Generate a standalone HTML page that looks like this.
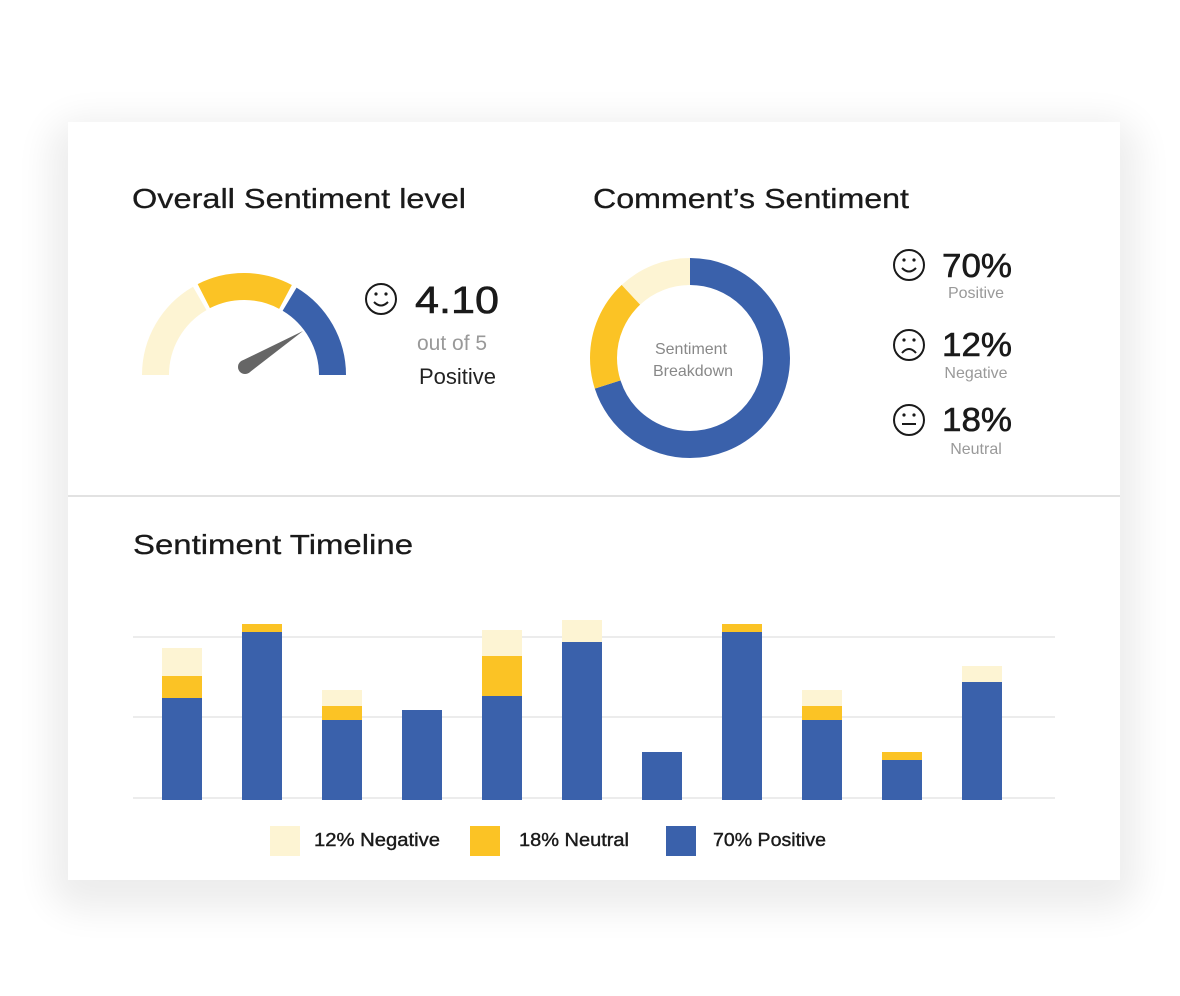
<!DOCTYPE html>
<html><head><meta charset="utf-8"><style>
html,body{margin:0;padding:0;background:#fff;}
svg{display:block;font-family:"Liberation Sans",sans-serif;}
</style></head><body>
<svg width="1180" height="996" viewBox="0 0 1180 996">
<defs>
<filter id="sh" x="-10%" y="-10%" width="120%" height="130%">
<feGaussianBlur stdDeviation="18"/>
</filter>
</defs>
<rect x="50" y="120" width="1088" height="790" rx="30" fill="#000" opacity="0.07" filter="url(#sh)"/>
<rect x="68" y="122" width="1052" height="758" fill="#fff"/>
<line x1="68" y1="496" x2="1120" y2="496" stroke="#e2e2e2" stroke-width="2"/>

<text x="132" y="208" font-size="28" fill="#1a1a1a" stroke="#1a1a1a" stroke-width="0.3" textLength="334" lengthAdjust="spacingAndGlyphs">Overall Sentiment level</text>
<text x="593" y="208" font-size="28" fill="#1a1a1a" stroke="#1a1a1a" stroke-width="0.3" textLength="316" lengthAdjust="spacingAndGlyphs">Comment’s Sentiment</text>
<text x="133" y="554" font-size="28" fill="#1a1a1a" stroke="#1a1a1a" stroke-width="0.3" textLength="280" lengthAdjust="spacingAndGlyphs">Sentiment Timeline</text>

<!-- gauge -->
<g fill="none" stroke-width="27">
<path d="M155.5 375 A88.5 88.5 0 0 1 199.75 298.4" stroke="#fdf4d3"/>
<path d="M203.8 296.1 A88.5 88.5 0 0 1 285.5 296.9" stroke="#fbc325"/>
<path d="M289.6 299.2 A88.5 88.5 0 0 1 332.5 375" stroke="#3a61ab"/>
</g>
<polygon points="303,331 248.7,373 241.3,361" fill="#666"/>
<circle cx="245" cy="367" r="7" fill="#666"/>

<g fill="none" stroke="#1a1a1a" stroke-width="2">
<circle cx="381" cy="299" r="15"/>
<path d="M374 302 Q381 309 388 302"/>
</g>
<circle cx="376" cy="294" r="1.6" fill="#1a1a1a"/><circle cx="386" cy="294" r="1.6" fill="#1a1a1a"/>
<text x="415" y="313" font-size="38" fill="#1a1a1a" stroke="#1a1a1a" stroke-width="0.6" textLength="84" lengthAdjust="spacingAndGlyphs">4.10</text>
<text x="417" y="350" font-size="21" fill="#999">out of 5</text>
<text x="419" y="384" font-size="22" fill="#222">Positive</text>

<!-- donut -->
<g transform="rotate(-90 690 358)" fill="none" stroke-width="27">
<circle cx="690" cy="358" r="86.5" stroke="#3a61ab" stroke-dasharray="380.5 1000"/>
<circle cx="690" cy="358" r="86.5" stroke="#fbc325" stroke-dasharray="0 380.5 97.8 1000"/>
<circle cx="690" cy="358" r="86.5" stroke="#fdf4d3" stroke-dasharray="0 478.3 65.2 1000"/>
</g>
<text x="691" y="354" font-size="16" fill="#888" text-anchor="middle">Sentiment</text>
<text x="693" y="376" font-size="16" fill="#888" text-anchor="middle">Breakdown</text>

<g fill="none" stroke="#1a1a1a" stroke-width="2">
<circle cx="909" cy="265" r="15"/><path d="M902 268 Q909 275 916 268"/>
<circle cx="909" cy="345" r="15"/><path d="M902 353 Q909 345 916 353"/>
<circle cx="909" cy="420" r="15"/><path d="M902 424 L916 424"/>
</g>
<g fill="#1a1a1a">
<circle cx="904" cy="260" r="1.6"/><circle cx="914" cy="260" r="1.6"/>
<circle cx="904" cy="340" r="1.6"/><circle cx="914" cy="340" r="1.6"/>
<circle cx="904" cy="415" r="1.6"/><circle cx="914" cy="415" r="1.6"/>
</g>
<g font-size="33" fill="#1a1a1a" stroke="#1a1a1a" stroke-width="0.6">
<text x="942" y="277" textLength="70" lengthAdjust="spacingAndGlyphs">70%</text>
<text x="942" y="356" textLength="70" lengthAdjust="spacingAndGlyphs">12%</text>
<text x="942" y="431" textLength="70" lengthAdjust="spacingAndGlyphs">18%</text>
</g>
<g font-size="16" fill="#999" text-anchor="middle">
<text x="976" y="298">Positive</text>
<text x="976" y="378">Negative</text>
<text x="976" y="454">Neutral</text>
</g>

<!-- bar chart -->
<g stroke="#e6e6e6" stroke-width="1.5">
<line x1="133" y1="637" x2="1055" y2="637"/>
<line x1="133" y1="717" x2="1055" y2="717"/>
<line x1="133" y1="798" x2="1055" y2="798"/>
</g>
<g>
<rect x="162" y="648" width="40" height="28" fill="#fdf4d3"/><rect x="162" y="676" width="40" height="22" fill="#fbc325"/><rect x="162" y="698" width="40" height="102" fill="#3a61ab"/>
<rect x="242" y="624" width="40" height="8" fill="#fbc325"/><rect x="242" y="632" width="40" height="168" fill="#3a61ab"/>
<rect x="322" y="690" width="40" height="16" fill="#fdf4d3"/><rect x="322" y="706" width="40" height="14" fill="#fbc325"/><rect x="322" y="720" width="40" height="80" fill="#3a61ab"/>
<rect x="402" y="710" width="40" height="90" fill="#3a61ab"/>
<rect x="482" y="630" width="40" height="26" fill="#fdf4d3"/><rect x="482" y="656" width="40" height="40" fill="#fbc325"/><rect x="482" y="696" width="40" height="104" fill="#3a61ab"/>
<rect x="562" y="620" width="40" height="22" fill="#fdf4d3"/><rect x="562" y="642" width="40" height="158" fill="#3a61ab"/>
<rect x="642" y="752" width="40" height="48" fill="#3a61ab"/>
<rect x="722" y="624" width="40" height="8" fill="#fbc325"/><rect x="722" y="632" width="40" height="168" fill="#3a61ab"/>
<rect x="802" y="690" width="40" height="16" fill="#fdf4d3"/><rect x="802" y="706" width="40" height="14" fill="#fbc325"/><rect x="802" y="720" width="40" height="80" fill="#3a61ab"/>
<rect x="882" y="752" width="40" height="8" fill="#fbc325"/><rect x="882" y="760" width="40" height="40" fill="#3a61ab"/>
<rect x="962" y="666" width="40" height="16" fill="#fdf4d3"/><rect x="962" y="682" width="40" height="118" fill="#3a61ab"/>
</g>

<rect x="270" y="826" width="30" height="30" fill="#fdf4d3"/>
<rect x="470" y="826" width="30" height="30" fill="#fbc325"/>
<rect x="666" y="826" width="30" height="30" fill="#3a61ab"/>
<g font-size="18" fill="#1a1a1a" stroke="#1a1a1a" stroke-width="0.4">
<text x="314" y="846" textLength="126" lengthAdjust="spacingAndGlyphs">12% Negative</text>
<text x="519" y="846" textLength="110" lengthAdjust="spacingAndGlyphs">18% Neutral</text>
<text x="713" y="846" textLength="113" lengthAdjust="spacingAndGlyphs">70% Positive</text>
</g>
</svg>
</body></html>
